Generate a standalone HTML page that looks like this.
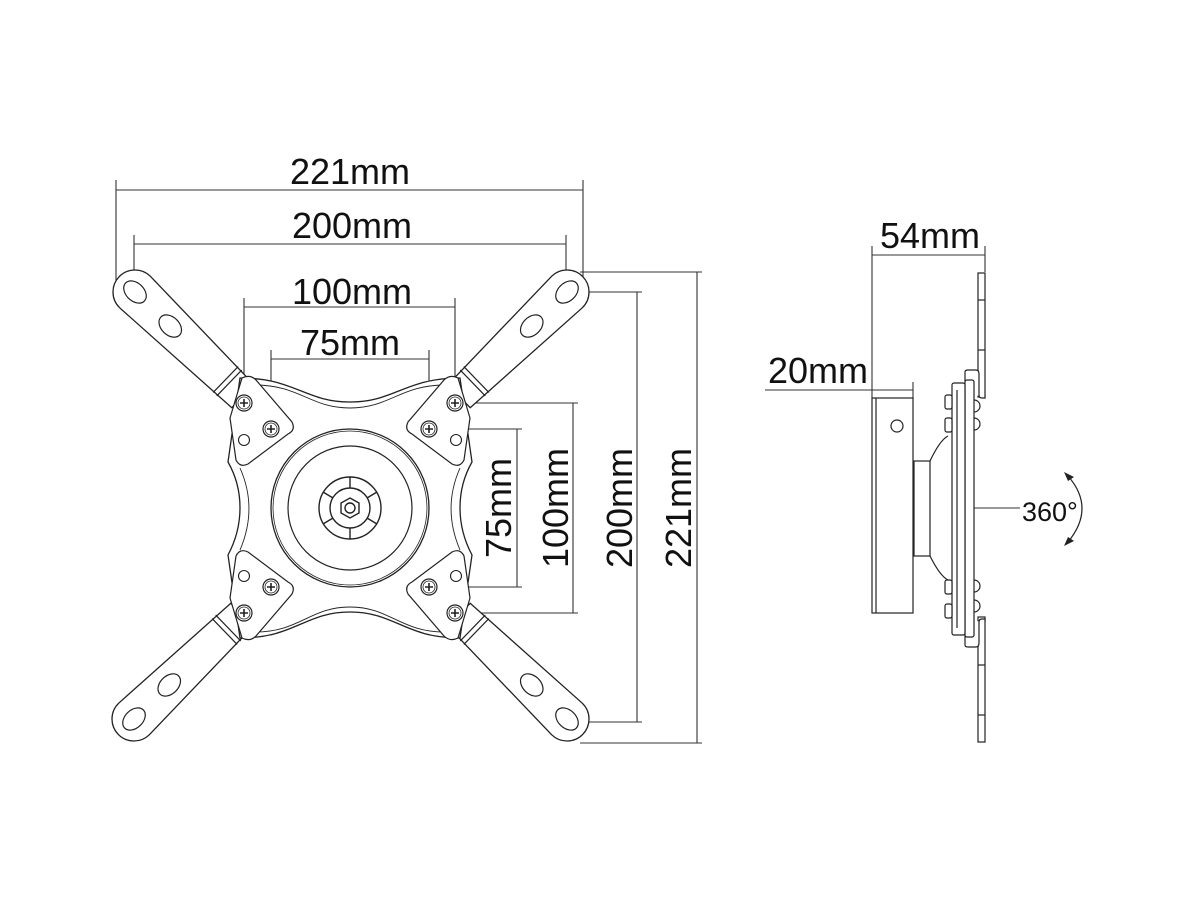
<!DOCTYPE html>
<html><head><meta charset="utf-8"><style>
html,body{margin:0;padding:0;background:#fff;width:1200px;height:900px;overflow:hidden}
svg{display:block}
text{font-family:"Liberation Sans",sans-serif;fill:#111}
</style></head><body>
<svg width="1200" height="900" viewBox="0 0 1200 900" xmlns="http://www.w3.org/2000/svg">
<defs>
<g id="arm">
  <path d="M0 -22 L150 -16 L150 16 L0 22 A22 22 0 0 1 0 -22 Z" fill="#fff" stroke="#222" stroke-width="1.3"/>
  <ellipse cx="0" cy="0" rx="13" ry="9" fill="#fff" stroke="#222" stroke-width="1.2"/>
  <ellipse cx="49" cy="0" rx="13" ry="9" fill="#fff" stroke="#222" stroke-width="1.2"/>
  <line x1="126" y1="-18" x2="126" y2="18" stroke="#222" stroke-width="1.2"/>
  <line x1="131" y1="-18" x2="131" y2="18" stroke="#222" stroke-width="1.2"/>
</g>
<g id="screw">
  <circle r="8" fill="#fff" stroke="#222" stroke-width="1.2"/>
  <circle r="6" fill="none" stroke="#222" stroke-width="0.8"/>
  <path d="M-4 0H4M0 -4V4" stroke="#222" stroke-width="1.6"/>
</g>
<g id="brk">
  <path d="M-8 -30 Q0 -34 6 -28 L42 14 Q46 22 38 26 L-2 56 Q-10 60 -14 52 L-20 10 Z" fill="#fff" stroke="#222" stroke-width="1.2"/>
</g>
</defs>

<g stroke="#333" stroke-width="1.1" fill="none">
  <path d="M116 180V292M583 180V292M116 190H583"/>
  <path d="M134 235V292M566 235V292M134 244H566"/>
  <path d="M244 298V403M455 298V403M244 307H455"/>
  <path d="M271 350V429M429 350V429M271 359H429"/>
  <path d="M429 429H522M429 587H522M517 429V587"/>
  <path d="M455 403H578M455 613H578M573 403V613"/>
  <path d="M567 292H642M567 722H642M637 292V722"/>
  <path d="M580 272H702M580 743H702M697 272V743"/>
</g>

<use href="#arm" transform="translate(135,292) rotate(44)"/>
<use href="#arm" transform="translate(567,292) rotate(136)"/>
<use href="#arm" transform="translate(134,719) rotate(-44)"/>
<use href="#arm" transform="translate(567,719) rotate(-136)"/>

<path d="M240 378 C295 378 305 402 350 402 C395 402 405 378 460 378 L472 462 C456 490 456 525 472 555 L460 638 C405 638 395 612 350 612 C305 612 295 638 240 638 L228 555 C244 525 244 490 228 462 Z" fill="#fff" stroke="#222" stroke-width="1.3"/>
<path d="M255 385 C300 385 310 408 350 408 C390 408 400 385 445 385" fill="none" stroke="#222" stroke-width="0.9"/>
<path d="M255 632 C300 632 310 607 350 607 C390 607 400 632 445 632" fill="none" stroke="#222" stroke-width="0.9"/>
<path d="M240 468 C252 495 252 522 240 550" fill="none" stroke="#222" stroke-width="0.9"/>
<path d="M460 468 C448 495 448 522 460 550" fill="none" stroke="#222" stroke-width="0.9"/>

<use href="#brk" transform="translate(250,408)"/>
<use href="#brk" transform="translate(450,408) scale(-1,1)"/>
<use href="#brk" transform="translate(250,608) scale(1,-1)"/>
<use href="#brk" transform="translate(450,608) scale(-1,-1)"/>

<circle cx="350" cy="508" r="79" fill="#fff" stroke="#222" stroke-width="1.3"/>
<circle cx="350" cy="508" r="77" fill="none" stroke="#222" stroke-width="0.8"/>
<circle cx="350" cy="508" r="62" fill="none" stroke="#222" stroke-width="1.2"/>
<g fill="none" stroke="#222" stroke-width="1.4">
  <circle cx="350" cy="508" r="31"/>
  <circle cx="350" cy="508" r="20"/>
  <path d="M350 477V488M350 528V539M323 492L333 498M367 518L377 524M323 524L333 518M367 498L377 492"/>
  <polygon points="350,498 359,503 359,513 350,518 341,513 341,503"/>
  <circle cx="350" cy="508" r="5"/>
</g>

<use href="#screw" x="244" y="403"/><use href="#screw" x="271" y="429"/>
<use href="#screw" x="455" y="403"/><use href="#screw" x="429" y="429"/>
<use href="#screw" x="244" y="613"/><use href="#screw" x="271" y="587"/>
<use href="#screw" x="455" y="613"/><use href="#screw" x="429" y="587"/>
<g fill="#fff" stroke="#222" stroke-width="1.1">
<circle cx="244" cy="440" r="5.5"/><circle cx="456" cy="440" r="5.5"/>
<circle cx="244" cy="576" r="5.5"/><circle cx="456" cy="576" r="5.5"/>
</g>

<g font-size="36" text-anchor="middle">
<text x="350" y="184">221mm</text>
<text x="352" y="238">200mm</text>
<text x="352" y="304">100mm</text>
<text x="350" y="355">75mm</text>
<text transform="translate(511,508) rotate(-90)">75mm</text>
<text transform="translate(568,508) rotate(-90)">100mm</text>
<text transform="translate(632,508) rotate(-90)">200mm</text>
<text transform="translate(691,508) rotate(-90)">221mm</text>
<text x="930" y="248">54mm</text>
<text x="818" y="383">20mm</text>
</g>

<g stroke="#333" stroke-width="1.1" fill="none">
  <path d="M872 246V398M985 246V272M872 255H985"/>
  <path d="M765 390H913M913 382V398"/>
  <path d="M964 508H1020"/>
</g>
<g fill="#fff" stroke="#222" stroke-width="1.2">
  <rect x="872" y="398" width="41" height="215"/>
  <line x1="876" y1="398" x2="876" y2="613"/>
  <circle cx="897" cy="426" r="6"/>
  <rect x="914" y="461" width="16" height="95"/>
  <path d="M930 461 Q940 440 948 436M930 556 Q940 576 948 580" fill="none"/>
  <rect x="978" y="273" width="7" height="124"/>
  <rect x="978" y="617" width="7" height="125"/>
  <path d="M965 397 V372 Q965 370 968 370 H976 Q979 370 979 374 V395 Q979 398 982 398 H985 V395" />
  <path d="M965 620 V645 Q965 647 968 647 H976 Q979 647 979 643 V622 Q979 619 982 619 H985 V622" />
  <rect x="965" y="380" width="9" height="257" rx="2"/>
  <rect x="952" y="383" width="13" height="252" rx="2"/>
  <line x1="957" y1="390" x2="957" y2="628"/>
  <rect x="945" y="395" width="7" height="14" rx="2"/>
  <rect x="945" y="418" width="7" height="14" rx="2"/>
  <rect x="945" y="580" width="7" height="14" rx="2"/>
  <rect x="945" y="604" width="7" height="14" rx="2"/>
  <path d="M974 400 a5 5 0 0 1 0 12M974 418 a5 5 0 0 1 0 12M974 580 a5 5 0 0 1 0 12M974 600 a5 5 0 0 1 0 12" fill="none"/>
  <line x1="978" y1="300" x2="985" y2="300"/><line x1="978" y1="350" x2="985" y2="350"/>
  <line x1="978" y1="665" x2="985" y2="665"/><line x1="978" y1="715" x2="985" y2="715"/>
</g>
<text x="1022" y="521" font-size="27">360°</text>
<path d="M1068 476 Q1096 508 1068 542" fill="none" stroke="#222" stroke-width="1.2"/>
<path d="M1064 472 L1074 477 L1068 481 Z M1064 546 L1074 541 L1068 537 Z" fill="#222"/>
</svg>
</body></html>
